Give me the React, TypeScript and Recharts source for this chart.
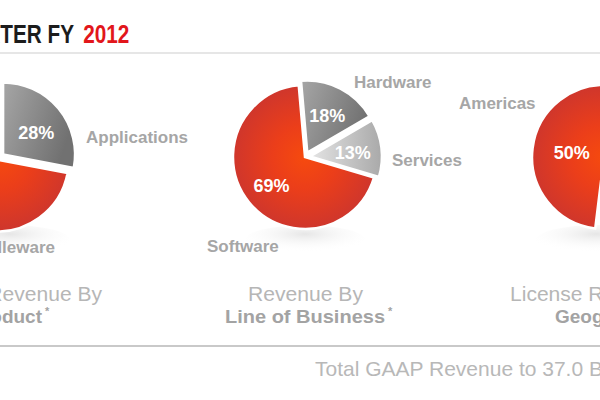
import React from 'react';
import { PieChart, Pie, Cell, Sector } from 'recharts';

// ---- data ----
const productCategories = ['Applications', 'Middleware'];
const productShares = [28, 72];
const businessCategories = ['Hardware', 'Services', 'Software'];
const businessShares = [18, 13, 69];
const geoCategories = ['Americas', 'EMEA', 'Asia Pacific'];
const geoShares = [50, 33, 17];

const toRows = (names: string[], values: number[]) =>
  names.map((name, i) => ({ name, value: values[i] }));

const productRows = toRows(productCategories, productShares);
const businessRows = toRows(businessCategories, businessShares);
const geoRows = toRows(geoCategories, geoShares);

// ---- styling ----
const W = 600;
const H = 400;
const RADIUS = 72;
const PIE_Y = 157;
const LEFT_X = 0;
const MID_X = 305;
const RIGHT_X = 604;
const RAD = Math.PI / 180;

const fillFor: Record<string, string> = {
  Applications: 'url(#grayDark)',
  Middleware: 'url(#redLeft)',
  Hardware: 'url(#grayDark)',
  Services: 'url(#grayLight)',
  Software: 'url(#redMid)',
  Americas: 'url(#redRight)',
  EMEA: 'url(#grayDark)',
  'Asia Pacific': 'url(#grayLight)',
};
const explodeBy: Record<string, number> = {
  Applications: 4,
  Middleware: 4,
  Hardware: 5,
  Services: 5,
  EMEA: 8,
  'Asia Pacific': 8,
};

const nameOf = (p: any) => (p && (p.name ?? (p.payload && p.payload.name))) as string;

const explodedShape = (p: any) => {
  const d = explodeBy[nameOf(p)] ?? 0;
  const dx = d * Math.cos(-p.midAngle * RAD);
  const dy = d * Math.sin(-p.midAngle * RAD);
  return <Sector {...p} cx={p.cx + dx} cy={p.cy + dy} />;
};

const pctLabel = (factor: number, dyShift = 0) => (p: any) => {
  const d = explodeBy[nameOf(p)] ?? 0;
  const r = p.outerRadius * factor + d;
  const x = p.cx + r * Math.cos(-p.midAngle * RAD);
  const y = p.cy + r * Math.sin(-p.midAngle * RAD) + dyShift;
  return (
    <text
      x={x}
      y={y}
      fill="#ffffff"
      textAnchor="middle"
      dominantBaseline="central"
      fontFamily="'Liberation Sans', Arial, sans-serif"
      fontWeight="bold"
      fontSize={18}
    >
      {`${p.value}%`}
    </text>
  );
};

const catStyle = {
  fontFamily: "'Liberation Sans', Arial, sans-serif",
  fontWeight: 700,
  fontSize: 17,
  fill: '#a6a6a6',
} as const;
const lightStyle = {
  fontFamily: "'Liberation Sans', Arial, sans-serif",
  fontWeight: 400,
  fontSize: 20,
  fill: '#b6b6b6',
} as const;
const boldSubStyle = {
  fontFamily: "'Liberation Sans', Arial, sans-serif",
  fontWeight: 700,
  fontSize: 19,
  fill: '#a3a3a3',
} as const;

const redStops = (
  <>
    <stop offset="0%" stopColor="#f64a0e" />
    <stop offset="45%" stopColor="#eb3e1a" />
    <stop offset="100%" stopColor="#cf362c" />
  </>
);

const TITLE_SCALE = 0.83;

export default function App() {
  return (
    <div
      style={{
        position: 'absolute',
        left: 0,
        top: 0,
        width: W,
        height: H,
        background: '#ffffff',
        overflow: 'hidden',
      }}
    >
      {/* reflections under the pies */}
      <svg width={W} height={H} style={{ position: 'absolute', left: 0, top: 0 }}>
        <defs>
          <radialGradient id="refl" cx="50%" cy="30%" r="60%">
            <stop offset="0%" stopColor="#e6e6e6" />
            <stop offset="100%" stopColor="#ffffff" stopOpacity={0} />
          </radialGradient>
        </defs>
        <ellipse cx={LEFT_X + 10} cy={240} rx={60} ry={15} fill="url(#refl)" />
        <ellipse cx={MID_X} cy={240} rx={60} ry={15} fill="url(#refl)" />
        <ellipse cx={RIGHT_X - 8} cy={240} rx={60} ry={15} fill="url(#refl)" />
      </svg>

      <div style={{ position: 'absolute', left: 0, top: 0 }}>
        <PieChart width={W} height={H} margin={{ top: 0, right: 0, bottom: 0, left: 0 }}>
          <defs>
            <linearGradient id="grayDark" x1="0" y1="0" x2="1" y2="0.4">
              <stop offset="0%" stopColor="#a6a6a6" />
              <stop offset="100%" stopColor="#717171" />
            </linearGradient>
            <linearGradient id="grayLight" x1="0" y1="0" x2="1" y2="0">
              <stop offset="0%" stopColor="#e4e4e4" />
              <stop offset="100%" stopColor="#a9a9a9" />
            </linearGradient>
            <radialGradient id="redLeft" gradientUnits="userSpaceOnUse" cx={LEFT_X} cy={PIE_Y} r={RADIUS}>
              {redStops}
            </radialGradient>
            <radialGradient id="redMid" gradientUnits="userSpaceOnUse" cx={MID_X} cy={PIE_Y} r={RADIUS}>
              {redStops}
            </radialGradient>
            <radialGradient id="redRight" gradientUnits="userSpaceOnUse" cx={RIGHT_X} cy={PIE_Y} r={RADIUS}>
              {redStops}
            </radialGradient>
          </defs>

          <Pie
            data={productRows}
            dataKey="value"
            nameKey="name"
            cx={LEFT_X}
            cy={PIE_Y}
            outerRadius={RADIUS}
            startAngle={90}
            endAngle={-270}
            stroke="#ffffff"
            strokeWidth={2.5}
            isAnimationActive={false}
            labelLine={false}
            label={pctLabel(0.6, 6)}
            shape={explodedShape}
          >
            {productRows.map((r) => (
              <Cell key={r.name} fill={fillFor[r.name]} />
            ))}
          </Pie>

          <Pie
            data={businessRows}
            dataKey="value"
            nameKey="name"
            cx={MID_X}
            cy={PIE_Y}
            outerRadius={RADIUS}
            startAngle={95}
            endAngle={-265}
            stroke="#ffffff"
            strokeWidth={2.5}
            isAnimationActive={false}
            labelLine={false}
            label={pctLabel(0.6, 2)}
            shape={explodedShape}
          >
            {businessRows.map((r) => (
              <Cell key={r.name} fill={fillFor[r.name]} />
            ))}
          </Pie>

          <Pie
            data={geoRows}
            dataKey="value"
            nameKey="name"
            cx={RIGHT_X}
            cy={PIE_Y}
            outerRadius={RADIUS}
            startAngle={83}
            endAngle={443}
            stroke="#ffffff"
            strokeWidth={2.5}
            isAnimationActive={false}
            labelLine={false}
            label={pctLabel(0.45)}
            shape={explodedShape}
          >
            {geoRows.map((r) => (
              <Cell key={r.name} fill={fillFor[r.name]} />
            ))}
          </Pie>
        </PieChart>
      </div>

      {/* text overlay */}
      <svg
        width={W}
        height={H}
        style={{ position: 'absolute', left: 0, top: 0, pointerEvents: 'none' }}
      >
        <text
          x={-153 / TITLE_SCALE}
          y={43}
          transform={`scale(${TITLE_SCALE} 1)`}
          fontFamily="'Liberation Sans', Arial, sans-serif"
          fontWeight="bold"
          fontSize={25}
          fill="#1c1c1c"
        >
          FOURTH QUARTER FY
          <tspan dx={11} fill="#e2161b">2012</tspan>
        </text>
        <line x1={0} y1={53} x2={W} y2={53} stroke="#dedede" strokeWidth={1.5} />

        {/* category names */}
        <text x={86} y={143} {...catStyle}>Applications</text>
        <text x={55} y={253} textAnchor="end" {...catStyle}>Middleware</text>
        <text x={354} y={88} {...catStyle}>Hardware</text>
        <text x={392} y={166} {...catStyle}>Services</text>
        <text x={207} y={252} {...catStyle}>Software</text>
        <text x={459} y={109} {...catStyle}>Americas</text>

        {/* chart captions */}
        <text x={102} y={301} textAnchor="end" textLength={193} lengthAdjust="spacingAndGlyphs" {...lightStyle}>
          License Revenue By
        </text>
        <text x={42} y={323} textAnchor="end" {...boldSubStyle}>Product</text>
        <text x={45} y={315} {...boldSubStyle} fontSize={11}>*</text>

        <text x={248} y={301} textLength={115} lengthAdjust="spacingAndGlyphs" {...lightStyle}>
          Revenue By
        </text>
        <text x={225} y={323} textLength={160} lengthAdjust="spacingAndGlyphs" {...boldSubStyle}>
          Line of Business
        </text>
        <text x={388} y={315} {...boldSubStyle} fontSize={11}>*</text>

        <text x={510} y={301} textLength={193} lengthAdjust="spacingAndGlyphs" {...lightStyle}>
          License Revenue By
        </text>
        <text x={555} y={323} {...boldSubStyle}>Geography</text>

        <line x1={0} y1={346} x2={W} y2={346} stroke="#c9c9c9" strokeWidth={2} />
        <text x={315} y={376} {...lightStyle} fontSize={21} fill="#b8b8b8">
          Total GAAP Revenue to 37.0 Billion
        </text>
      </svg>
    </div>
  );
}
